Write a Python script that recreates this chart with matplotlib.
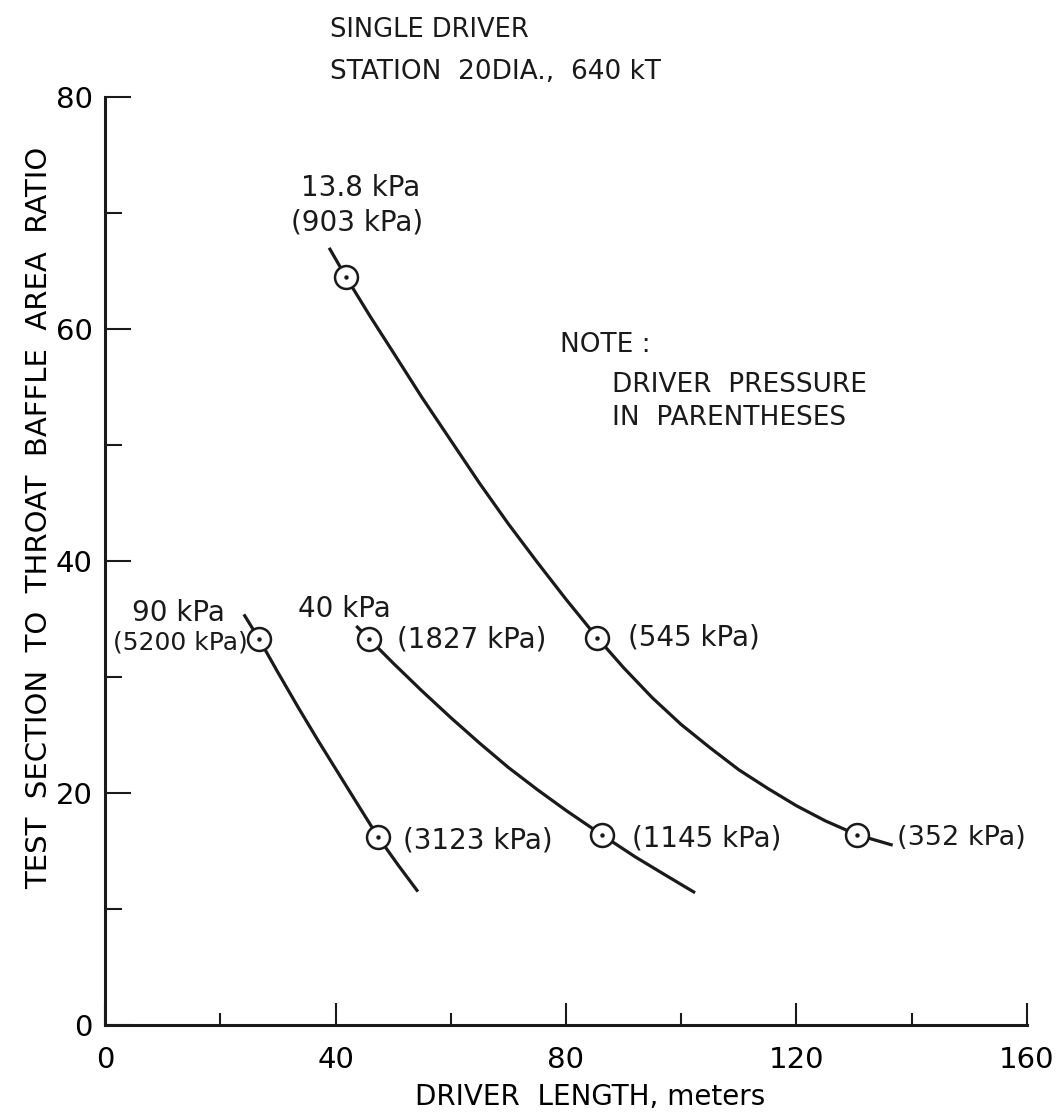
import matplotlib
matplotlib.use("Agg")
import matplotlib.pyplot as plt

plt.rcParams['font.family'] = ['DejaVu Sans']

# Curves per throat pressure: driver length (m) vs. area ratio
curve_13_8_x = [38.9, 41.8, 46.0, 50.0, 55.0, 60.0, 65.0, 70.0, 75.0, 80.0, 85.4,
                90.0, 95.0, 100.0, 105.0, 110.0, 115.0, 120.0, 125.0, 130.5, 136.7]
curve_13_8_y = [67.0, 64.5, 61.1, 58.0, 54.1, 50.4, 46.7, 43.2, 39.9, 36.7, 33.4,
                30.8, 28.2, 25.9, 23.9, 22.0, 20.4, 18.9, 17.6, 16.4, 15.5]
curve_40_x = [43.6, 45.8, 50.0, 55.0, 60.0, 65.0, 70.0, 75.0, 80.0, 86.2, 92.0, 97.0, 102.4]
curve_40_y = [34.4, 33.3, 31.2, 28.8, 26.5, 24.3, 22.2, 20.3, 18.5, 16.4, 14.5, 13.0, 11.4]
curve_90_x = [24.1, 26.7, 30.0, 33.5, 37.0, 40.5, 44.0, 47.4, 51.0, 54.3]
curve_90_y = [35.4, 33.3, 30.4, 27.4, 24.5, 21.7, 18.9, 16.2, 13.7, 11.5]

# Marked design points
points_x = [41.8, 85.4, 130.5, 45.8, 86.2, 26.7, 47.4]
points_y = [64.5, 33.4, 16.4, 33.3, 16.4, 33.3, 16.2]

x_ticks = [0, 40, 80, 120, 160]
x_minor = [20, 60, 100, 140]
y_ticks = [0, 20, 40, 60, 80]
y_minor = [10, 30, 50, 70]

ink = '#1a1a1a'
fig = plt.figure(figsize=(10.62, 11.14), dpi=100)
ax = fig.add_axes([0.0989, 0.0799, 0.8681, 0.8330])

for xs, ys in [(curve_13_8_x, curve_13_8_y), (curve_40_x, curve_40_y), (curve_90_x, curve_90_y)]:
    ax.plot(xs, ys, color=ink, lw=2.3, solid_capstyle='butt',
            solid_joinstyle='round', zorder=2)

ax.plot(points_x, points_y, linestyle='none', marker='o', markersize=16.5,
        markerfacecolor='white', markeredgecolor=ink, markeredgewidth=1.8, zorder=3)
ax.plot(points_x, points_y, linestyle='none', marker='o', markersize=2.2,
        markerfacecolor=ink, markeredgecolor=ink, zorder=4)

ax.set_xlim(0, 160)
ax.set_ylim(0, 80)
for s in ['top', 'right']:
    ax.spines[s].set_visible(False)
for s in ['left', 'bottom']:
    ax.spines[s].set_linewidth(2.2)
    ax.spines[s].set_color(ink)

ax.set_xticks(x_ticks)
ax.set_xticks(x_minor, minor=True)
ax.set_yticks(y_ticks)
ax.set_yticks(y_minor, minor=True)
ax.tick_params(axis='x', which='major', direction='in', length=16, width=1.5, color=ink,
               labelsize=21, pad=15)
ax.tick_params(axis='x', which='minor', direction='in', length=9, width=1.5, color=ink)
ax.tick_params(axis='y', which='major', direction='in', length=19, width=1.5, color=ink,
               labelsize=21, pad=9)
ax.tick_params(axis='y', which='minor', direction='in', length=12, width=1.5, color=ink)

ax.set_xlabel('DRIVER  LENGTH, meters', fontsize=20)
ax.xaxis.set_label_coords(0.526, -0.063)
ax.set_ylabel('TEST  SECTION  TO  THROAT  BAFFLE  AREA  RATIO', fontsize=21)
ax.yaxis.set_label_coords(-0.056, 0.547)

txt = dict(fontsize=20, color=ink)
ax.text(39.0, 85.8, 'SINGLE DRIVER', ha='left', va='center', clip_on=False,
        fontsize=18.5, color=ink)
ax.text(39.0, 82.2, 'STATION  20DIA.,  640 kT', ha='left', va='center', clip_on=False,
        fontsize=19, color=ink)

ax.text(44.3, 72.2, '13.8 kPa', ha='center', va='center', **txt)
ax.text(43.8, 69.2, '(903 kPa)', ha='center', va='center', **txt)

ax.text(79.0, 58.6, 'NOTE :', ha='left', va='center', fontsize=19, color=ink)
ax.text(88.0, 55.2, 'DRIVER  PRESSURE', ha='left', va='center', fontsize=19, color=ink)
ax.text(88.0, 52.3, 'IN  PARENTHESES', ha='left', va='center', fontsize=19, color=ink)

ax.text(12.7, 35.5, '90 kPa', ha='center', va='center', **txt)
ax.text(24.7, 33.0, '(5200 kPa)', ha='right', va='center', fontsize=18, color=ink)
ax.text(33.5, 35.9, '40 kPa', ha='left', va='center', **txt)
ax.text(50.7, 33.2, '(1827 kPa)', ha='left', va='center', **txt)
ax.text(90.8, 33.4, '(545 kPa)', ha='left', va='center', **txt)
ax.text(51.7, 15.9, '(3123 kPa)', ha='left', va='center', **txt)
ax.text(91.5, 16.1, '(1145 kPa)', ha='left', va='center', **txt)
ax.text(137.4, 16.1, '(352 kPa)', ha='left', va='center', fontsize=19.5, color=ink)

fig.savefig('out.png', dpi=100)
